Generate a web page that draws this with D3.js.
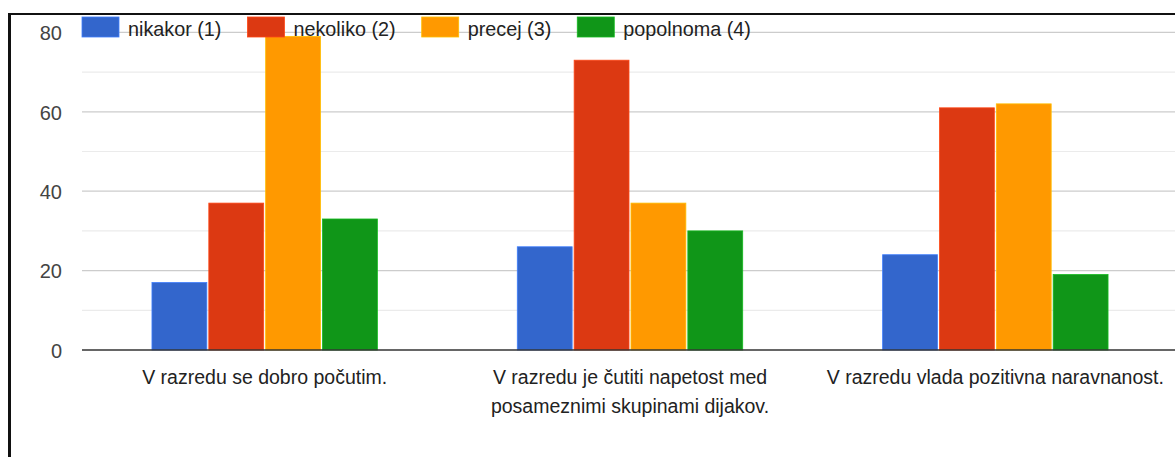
<!DOCTYPE html>
<html>
<head>
<meta charset="utf-8">
<script src="https://cdn.jsdelivr.net/npm/d3@7"></script>
<style>
  body { margin: 0; background: #fff; }
  svg { display: block; font-family: "Liberation Sans", Arial, sans-serif; }
</style>
</head>
<body>
<div id="main"></div>
<script>
var categories = ["V razredu se dobro počutim.", "V razredu je čutiti napetost med posameznimi skupinami dijakov.", "V razredu vlada pozitivna naravnanost."];
var seriesNames = ["nikakor (1)", "nekoliko (2)", "precej (3)", "popolnoma (4)"];
var seriesColors = ["#3366cc", "#dc3912", "#ff9900", "#109618"];
var nikakor = [17, 26, 24];
var nekoliko = [37, 73, 61];
var precej = [79, 37, 62];
var popolnoma = [33, 30, 19];
var yTicks = [0, 20, 40, 60, 80];
var yMinor = [10, 30, 50, 70];

var values = [nikakor, nekoliko, precej, popolnoma];

var chart = new Object;

chart.width = 1175 ;
chart.height = 457 ;

chart.svg = d3.select("#main")
  .append("svg")
  .attr("width", chart.width)
  .attr("height", chart.height) ;

var x0 = d3.scaleBand()
  .domain(categories)
  .range([82, 1178])
  .paddingInner(0.383)
  .paddingOuter(0.1915) ;

var x1 = d3.scaleBand()
  .domain(d3.range(seriesNames.length))
  .range([0, x0.bandwidth()])
  .paddingInner(0.035)
  .paddingOuter(0) ;

var y = d3.scaleLinear()
  .domain([0, 80])
  .range([350, 32.4]) ;

// gridlines
var grid = chart.svg.append("g") ;

grid.selectAll("line.minor")
  .data(yMinor)
  .enter().append("line")
  .attr("class", "minor")
  .attr("x1", 82).attr("x2", chart.width)
  .attr("y1", function(d) { return y(d); })
  .attr("y2", function(d) { return y(d); })
  .attr("stroke", "#ebebeb")
  .attr("stroke-width", 1.2) ;

grid.selectAll("line.major")
  .data(yTicks.filter(function(d) { return d > 0; }))
  .enter().append("line")
  .attr("class", "major")
  .attr("x1", 82).attr("x2", chart.width)
  .attr("y1", function(d) { return y(d); })
  .attr("y2", function(d) { return y(d); })
  .attr("stroke", "#cccccc")
  .attr("stroke-width", 1.2) ;

// y axis labels
var yAxis = d3.axisLeft(y).tickValues(yTicks).tickSize(0).tickPadding(0) ;
var yg = chart.svg.append("g")
  .attr("transform", "translate(62,0)")
  .call(yAxis) ;
yg.select(".domain").remove() ;
yg.selectAll("text")
  .attr("font-size", 20)
  .attr("font-family", "Liberation Sans, Arial, sans-serif")
  .attr("fill", "#444")
  .attr("dy", "0.36em") ;

// bars
var groups = chart.svg.selectAll("g.cat")
  .data(categories)
  .enter().append("g")
  .attr("class", "cat")
  .attr("transform", function(d) { return "translate(" + x0(d) + ",0)"; }) ;

groups.selectAll("rect")
  .data(function(d, i) {
    return values.map(function(s, k) { return { k: k, v: s[i] }; });
  })
  .enter().append("rect")
  .attr("x", function(d) { return x1(d.k); })
  .attr("width", x1.bandwidth())
  .attr("y", function(d) { return y(d.v); })
  .attr("height", function(d) { return y(0) - y(d.v); })
  .attr("fill", function(d) { return seriesColors[d.k]; })
  .attr("stroke", function(d) { return d3.color(seriesColors[d.k]).brighter(0.6); })
  .attr("stroke-width", 0.8) ;

// zero line
chart.svg.append("line")
  .attr("x1", 82).attr("x2", chart.width)
  .attr("y1", y(0)).attr("y2", y(0))
  .attr("stroke", "#333")
  .attr("stroke-width", 1.5) ;

// x labels, wrapped
var xAxis = d3.axisBottom(x0).tickSize(0).tickPadding(0) ;
var xg = chart.svg.append("g")
  .call(xAxis) ;
xg.select(".domain").remove() ;
xg.selectAll("text")
  .attr("font-size", 19.5)
  .attr("font-family", "Liberation Sans, Arial, sans-serif")
  .attr("fill", "#222")
  .attr("y", 384)
  .attr("dy", null)
  .each(function(d) { wrap(d3.select(this), x0.step() - 10); }) ;

function wrap(text, maxW) {
  var words = text.text().split(" ") ;
  var line = [] ;
  var lineNo = 0 ;
  text.text(null) ;
  var tspan = text.append("tspan").attr("x", 0).attr("y", 384) ;
  for (var i = 0; i < words.length; i++) {
    line.push(words[i]) ;
    tspan.text(line.join(" ")) ;
    if (tspan.node().getComputedTextLength() > maxW && line.length > 1) {
      line.pop() ;
      tspan.text(line.join(" ")) ;
      line = [words[i]] ;
      lineNo++ ;
      tspan = text.append("tspan").attr("x", 0).attr("y", 384 + lineNo * 29).text(words[i]) ;
    }
  }
}

// legend
var legend = chart.svg.append("g") ;
var lx = 82 ;
for (var k = 0; k < seriesNames.length; k++) {
  legend.append("rect")
    .attr("x", lx).attr("y", 17)
    .attr("width", 37).attr("height", 20)
    .attr("fill", seriesColors[k])
    .attr("stroke", d3.color(seriesColors[k]).brighter(0.6))
    .attr("stroke-width", 0.8) ;
  var t = legend.append("text")
    .attr("x", lx + 46).attr("y", 36)
    .attr("font-size", 19.8)
    .attr("fill", "#222")
    .text(seriesNames[k]) ;
  lx = lx + 46 + t.node().getComputedTextLength() + 26 ;
}

// frame
chart.svg.append("rect")
  .attr("x", 8).attr("y", 13)
  .attr("width", 3).attr("height", chart.height - 13)
  .attr("fill", "#111") ;
chart.svg.append("rect")
  .attr("x", 8).attr("y", 13)
  .attr("width", chart.width - 8).attr("height", 2)
  .attr("fill", "#111") ;
</script>
</body>
</html>
